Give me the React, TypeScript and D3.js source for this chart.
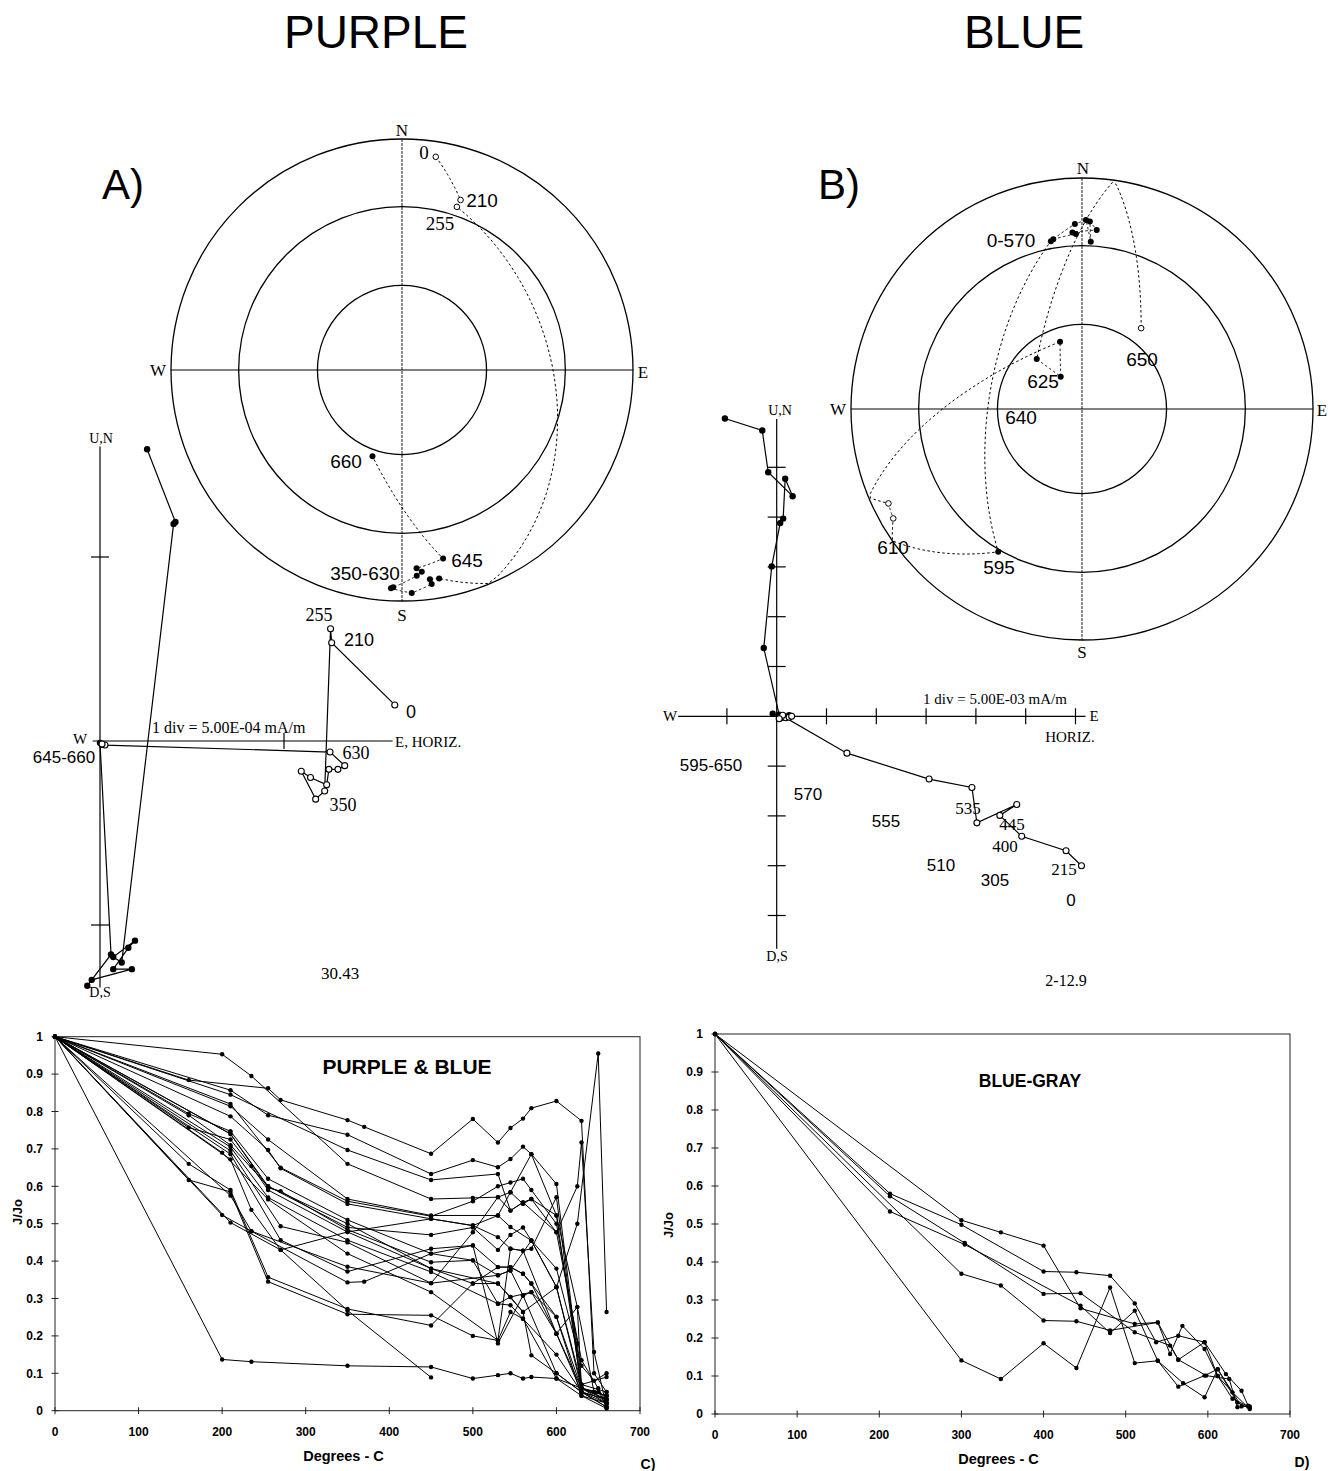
import React from "react";
import * as d3 from "d3";

// ---------- stereonet A (PURPLE), demagnetisation steps, dec / inc in degrees
const stepsA = ["0", "210", "255", "350", "400", "445", "510", "535", "555", "570", "595", "630", "645", "660"];
const decA = [9.0, 19.0, 18.6, 169.9, 172.4, 172.1, 177.5, 182.9, 182.3, 175.9, 174.4, 175.8, 167.7, 198.9];
const incA = [-7.3, -23.2, -26.4, 9.2, 9.5, 7.2, 3.8, 6.0, 6.5, 11.7, 13.3, 15.0, 17.6, 57.6];

// ---------- stereonet B (BLUE)
const stepsB = ["0", "215", "305", "400", "445", "510", "535", "555", "570", "595", "610", "620", "625", "630", "640", "650"];
const decB = [350.4, 358.0, 356.9, 4.7, 2.4, 3.0, 1.2, 357.8, 349.5, 210.4, 239.9, 244.0, 341.9, 326.6, 317.8, 36.2];
const incB = [26.4, 25.2, 24.5, 23.3, 19.9, 28.3, 19.3, 21.0, 27.0, 29.1, -6.2, -7.5, 65.0, 76.4, 66.2, -54.3];

// ---------- Zijderveld A, in divisions (1 div = 5.00E-04 mA/m)
const zaE = [0.256, 0.41, 0.40, 0.118, 0.072, 0.19, 0.154, 0.072, 0.173, -0.045, -0.069, 0.06, 0.0, 0.01];
const zaN = [1.586, 1.19, 1.18, -1.204, -1.174, -1.085, -1.124, -1.24, -1.24, -1.298, -1.33, -1.16, -0.01, -0.02];
const zaH = [1.602, 1.259, 1.253, 1.221, 1.172, 1.094, 1.144, 1.232, 1.244, 1.293, 1.33, 1.25, 0.027, 0.011];
const zaU = [0.196, 0.534, 0.61, -0.272, -0.316, -0.164, -0.198, -0.238, -0.154, -0.154, -0.134, -0.06, -0.022, -0.016];

// ---------- Zijderveld B, in divisions (1 div = 5.00E-03 mA/m)
const zbE = [-1.04, -0.29, -0.17, 0.32, 0.17, 0.13, 0.07, -0.10, -0.26, 0.05, 0.15, 0.25, 0.10, -0.08];
const zbN = [5.98, 5.74, 4.90, 4.42, 4.77, 3.97, 3.88, 3.01, 1.37, 0.03, 0.0, 0.02, -0.03, 0.05];
const zbH = [6.12, 5.81, 4.92, 4.48, 4.82, 4.02, 3.92, 3.06, 1.41, 0.18, 0.25, 0.12, 0.05, 0.3];
const zbU = [-3.0, -2.7, -2.41, -1.99, -1.77, -2.14, -1.43, -1.26, -0.74, -0.03, -0.02, 0.02, -0.05, 0.0];

// ---------- C) PURPLE & BLUE, J/Jo against temperature
const c01 = [[0, 1], [160, .884], [255, .862], [270, .831], [350, .777], [370, .759], [450, .687], [500, .78], [530, .717], [545, .756], [560, .781], [570, .809], [600, .828], [630, .775], [645, .1], [660, .05]];
const c02 = [[0, 1], [200, .953], [235, .895], [350, .66], [450, .566], [500, .569], [530, .571], [545, .584], [560, .553], [570, .566], [600, .522], [625, .277], [630, .06], [660, .03]];
const c03 = [[0, 1], [210, .857], [255, .79], [350, .738], [450, .633], [500, .67], [530, .651], [545, .673], [560, .706], [570, .686], [600, .606], [630, .06], [650, .05], [660, .02]];
const c04 = [[0, 1], [210, .845], [350, .697], [450, .617], [530, .633], [545, .535], [560, .557], [600, .477], [625, .6], [630, .717], [645, .157], [660, .01]];
const c05 = [[0, 1], [210, .814], [255, .725], [350, .566], [450, .522], [530, .522], [545, .491], [570, .455], [600, .331], [630, .06], [660, .04]];
const c06 = [[0, 1], [210, .787], [255, .697], [270, .648], [350, .553], [450, .513], [500, .495], [530, .464], [545, .433], [560, .428], [570, .433], [600, .571], [630, .05], [660, .03]];
const c07 = [[0, 1], [160, .794], [210, .747], [255, .62], [350, .51], [450, .42], [500, .442], [530, .384], [545, .384], [560, .366], [570, .34], [600, .251], [630, .06], [660, .02]];
const c08 = [[0, 1], [210, .74], [255, .596], [270, .587], [350, .484], [450, .397], [500, .402], [530, .362], [545, .375], [560, .308], [570, .317], [600, .206], [630, .05], [660, .03]];
const c09 = [[0, 1], [160, .757], [210, .725], [235, .654], [255, .59], [350, .478], [450, .38], [500, .34], [530, .34], [545, .304], [560, .264], [570, .148], [600, .1], [630, .05], [660, .01]];
const c10 = [[0, 1], [210, .705], [255, .57], [350, .456], [450, .371], [530, .286], [545, .282], [560, .246], [600, .086], [630, .04], [660, .02]];
const c11 = [[0, 1], [210, .695], [270, .493], [350, .45], [450, .341], [500, .477], [530, .571], [545, .535], [560, .557], [570, .566], [600, .477], [630, .135], [650, .06], [660, .02]];
const c12 = [[0, 1], [200, .69], [255, .565], [350, .42], [450, .317], [530, .188], [545, .433], [560, .428], [600, .206], [630, .06], [660, .04]];
const c13 = [[0, 1], [210, .686], [270, .456], [350, .372], [450, .433], [500, .442], [530, .18], [560, .308], [600, .1], [630, .05], [660, .02]];
const c14 = [[0, 1], [210, .672], [235, .537], [270, .43], [350, .478], [450, .513], [500, .495], [530, .522], [545, .584], [570, .686], [600, .522], [630, .06], [660, .03]];
const c15 = [[0, 1], [160, .66], [210, .59], [255, .357], [350, .272], [450, .228], [500, .34], [530, .384], [545, .384], [560, .366], [570, .34], [600, .206], [625, .277], [645, .05], [660, .04]];
const c16 = [[0, 1], [160, .617], [210, .585], [255, .345], [350, .258], [450, .255], [500, .2], [530, .188], [545, .264], [560, .246], [600, .15], [630, .05], [660, .01]];
const c17 = [[0, 1], [210, .575], [235, .48], [350, .343], [370, .345], [450, .42], [500, .402], [530, .286], [545, .304], [570, .317], [600, .251], [630, .04], [660, .006]];
const c18 = [[0, 1], [210, .503], [270, .43], [350, .268], [450, .089]];
const c19 = [[0, 1], [200, .137], [235, .131], [350, .12], [450, .117], [500, .086], [530, .095], [545, .1], [560, .086], [570, .09], [600, .086], [630, .06], [645, .05], [660, .02]];
const c20 = [[0, 1], [210, .74], [255, .6], [350, .5], [450, .38], [530, .34], [560, .264], [600, .33], [625, .5], [650, .955], [660, .264]];
const c21 = [[0, 1], [210, .82], [270, .65], [350, .56], [450, .52], [500, .56], [530, .6], [545, .61], [560, .62], [570, .59], [600, .5], [625, .18], [630, .07], [660, .09]];
const c22 = [[0, 1], [160, .79], [210, .71], [255, .6], [350, .49], [450, .47], [500, .49], [530, .43], [545, .47], [560, .49], [570, .455], [600, .38], [630, .12], [645, .08], [660, .1]];
const c23 = [[0, 1], [200, .523], [235, .48], [350, .385], [450, .341], [530, .362], [545, .375], [570, .455], [600, .331], [630, .07], [660, .05]];
const seriesC = [c01, c02, c03, c04, c05, c06, c07, c08, c09, c10, c11, c12, c13, c14, c15, c16, c17, c18, c19, c20, c21, c22, c23];

// ---------- D) BLUE-GRAY
const d1 = [[0, 1], [300, .51], [348, .478], [400, .443], [445, .278], [511, .237], [539, .241], [554, .158], [569, .232], [596, .171], [612, .10], [630, .057], [651, .013]];
const d2 = [[0, 1], [213, .58], [300, .498], [400, .375], [440, .373], [481, .364], [511, .291], [537, .189], [564, .206], [596, .189], [622, .105], [641, .061], [649, .022]];
const d3s = [[0, 1], [213, .573], [304, .45], [400, .316], [445, .318], [511, .215], [554, .18], [564, .143], [598, .101], [626, .092], [636, .018]];
const d4 = [[0, 1], [213, .533], [304, .446], [445, .285], [481, .213], [511, .272], [539, .14], [570, .081], [596, .044], [612, .118], [641, .02], [651, .02]];
const d5 = [[0, 1], [300, .369], [348, .338], [400, .246], [440, .244], [481, .22], [539, .241], [564, .143], [596, .189], [612, .10], [630, .04], [649, .02]];
const d6 = [[0, 1], [300, .141], [348, .092], [400, .186], [440, .121], [481, .333], [511, .134], [539, .14], [564, .072], [596, .101], [612, .118], [636, .03], [651, .015]];
const seriesD = [d1, d2, d3s, d4, d5, d6];

const xTicksDeg = [0, 100, 200, 300, 400, 500, 600, 700];
const yTicksJ = [0, 0.1, 0.2, 0.3, 0.4, 0.5, 0.6, 0.7, 0.8, 0.9, 1];

const SER = "'Liberation Serif', 'DejaVu Serif', serif";
const SANS = "'Liberation Sans', Arial, sans-serif";
const RAD = Math.PI / 180;
const R = 231;

const Txt = ({ x, y, t, size = 17, font = SANS, anchor = "middle", weight = "normal", rotate = 0 }) => (
  <text x={x} y={y} dy="0.35em" fontSize={size} fontFamily={font} textAnchor={anchor} fontWeight={weight}
    transform={rotate ? `rotate(${rotate},${x},${y})` : undefined}>{t}</text>
);

function Stereonet({ cx, cy, dec, inc }) {
  const r = d3.scaleLinear().domain([0, 1]).range([0, R]);
  // equal-area (Lambert) projection, upper hemisphere folded onto lower
  const eq = (I) => Math.SQRT2 * Math.sin(((90 - Math.abs(I)) / 2) * RAD);
  const proj = (D, I) => {
    const rr = r(eq(I));
    return [cx + rr * Math.sin(D * RAD), cy - rr * Math.cos(D * RAD)];
  };
  const rings = [0, 30, 60].map((I) => r(eq(I)));
  const pts = [];
  for (let k = 0; k < dec.length - 1; k++) {
    const f = d3.geoInterpolate([dec[k], inc[k]], [dec[k + 1], inc[k + 1]]);
    d3.range(0, 1.0001, 1 / 40).forEach((t) => {
      const [D, I] = f(t);
      pts.push(proj(D, I));
    });
  }
  const path = d3.line()(pts);
  return (
    <g>
      {rings.map((rr, i) => (
        <circle key={i} cx={cx} cy={cy} r={rr} fill="none" stroke="#000" strokeWidth={1.3} />
      ))}
      <line x1={cx - R} x2={cx + R} y1={cy} y2={cy} stroke="#000" strokeWidth={1} />
      <line x1={cx} x2={cx} y1={cy - R} y2={cy + R} stroke="#000" strokeWidth={0.9} strokeDasharray="3,1" />
      <path d={path} fill="none" stroke="#000" strokeWidth={1} strokeDasharray="2.5,2.5" />
      {dec.map((D, i) => {
        const [x, y] = proj(D, inc[i]);
        return inc[i] >= 0
          ? <circle key={i} cx={x} cy={y} r={3} fill="#000" />
          : <circle key={i} cx={x} cy={y} r={2.8} fill="#fff" stroke="#000" strokeWidth={1} />;
      })}
    </g>
  );
}

function Zijderveld({ ox, oy, div, xr, yr, xTicks, yTicks, hE, hN, vH, vU }) {
  const x = d3.scaleLinear().domain([0, 1]).range([ox, ox + div]);
  const y = d3.scaleLinear().domain([0, 1]).range([oy, oy - div]);
  const line = d3.line();
  const hPts = hE.map((e, i) => [x(e), y(hN[i])]);
  const vPts = vH.map((h, i) => [x(h), y(vU[i])]);
  return (
    <g>
      <line x1={x(xr[0])} x2={x(xr[1])} y1={oy} y2={oy} stroke="#000" strokeWidth={1.2} />
      <line x1={ox} x2={ox} y1={y(yr[0])} y2={y(yr[1])} stroke="#000" strokeWidth={1.2} />
      {xTicks.map((t) => (
        <line key={"x" + t} x1={x(t)} x2={x(t)} y1={oy - 8} y2={oy + 8} stroke="#000" strokeWidth={1.2} />
      ))}
      {yTicks.map((t) => (
        <line key={"y" + t} x1={ox - 9} x2={ox + 9} y1={y(t)} y2={y(t)} stroke="#000" strokeWidth={1.2} />
      ))}
      <path d={line(hPts)} fill="none" stroke="#000" strokeWidth={1.2} />
      <path d={line(vPts)} fill="none" stroke="#000" strokeWidth={1.2} />
      {hPts.map(([px, py], i) => <circle key={"h" + i} cx={px} cy={py} r={3.2} fill="#000" />)}
      {vPts.map(([px, py], i) => (
        <circle key={"v" + i} cx={px} cy={py} r={3} fill="#fff" stroke="#000" strokeWidth={1.1} />
      ))}
    </g>
  );
}

function DecayChart({ left, right, top, bottom, series, title, tx, ty, tsize, yLabelX, yLabelY, letter, lx, ly }) {
  const x = d3.scaleLinear().domain([0, 700]).range([left, right]);
  const y = d3.scaleLinear().domain([0, 1]).range([bottom, top]);
  const line = d3.line().x((d) => x(d[0])).y((d) => y(d[1]));
  return (
    <g>
      <rect x={left} y={top} width={right - left} height={bottom - top} fill="none" stroke="#222" strokeWidth={1} />
      {yTicksJ.map((t) => (
        <line key={"ytk" + t} x1={left - 3.5} x2={left + 3.5} y1={y(t)} y2={y(t)} stroke="#222" strokeWidth={1} />
      ))}
      {xTicksDeg.map((t) => (
        <line key={"xtk" + t} x1={x(t)} x2={x(t)} y1={bottom - 3.5} y2={bottom + 3.5} stroke="#222" strokeWidth={1} />
      ))}
      {series.map((s, i) => (
        <g key={i}>
          <path d={line(s)} fill="none" stroke="#000" strokeWidth={1} />
          {s.map((d, j) => <circle key={j} cx={x(d[0])} cy={y(d[1])} r={2.2} fill="#000" />)}
        </g>
      ))}
      {xTicksDeg.map((t) => (
        <Txt key={"xt" + t} x={x(t)} y={bottom + 21} t={String(t)} size={12} weight="bold" />
      ))}
      {yTicksJ.map((t) => (
        <Txt key={"yt" + t} x={left - 12} y={y(t)} t={String(t)} size={12} weight="bold" anchor="end" />
      ))}
      <Txt x={(left + right) / 2 - 4} y={bottom + 45} t="Degrees - C" size={14.5} weight="bold" />
      <Txt x={yLabelX} y={yLabelY} t="J/Jo" size={13} weight="bold" rotate={-90} />
      <Txt x={tx} y={ty} t={title} size={tsize} weight="bold" />
      <Txt x={lx} y={ly} t={letter} size={14} weight="bold" />
    </g>
  );
}

export default function App() {
  return (
    <svg width={1334} height={1471} style={{ position: "absolute", left: 0, top: 0, background: "#fff" }}>
      <rect width={1334} height={1471} fill="#fff" />
      <text x={376} y={48} fontSize={46} fontFamily={SANS} textAnchor="middle">PURPLE</text>
      <text x={1024} y={48} fontSize={46} fontFamily={SANS} textAnchor="middle">BLUE</text>
      <text x={102} y={199} fontSize={42} fontFamily={SANS}>A)</text>
      <text x={818} y={199} fontSize={42} fontFamily={SANS}>B)</text>

      {/* ---- A stereonet ---- */}
      <Stereonet cx={402} cy={370} dec={decA} inc={incA} />
      <Txt x={402} y={130} t="N" font={SER} size={17} />
      <Txt x={402} y={615} t="S" font={SER} size={17} />
      <Txt x={158} y={370} t="W" font={SER} size={17} />
      <Txt x={643} y={372} t="E" font={SER} size={17} />
      <Txt x={424} y={152} t="0" font={SER} size={19} />
      <Txt x={482} y={200} t="210" size={19} />
      <Txt x={440} y={223} t="255" font={SER} size={19} />
      <Txt x={346} y={461} t="660" size={19} />
      <Txt x={467} y={560} t="645" size={19} />
      <Txt x={365} y={573} t="350-630" size={19} />

      {/* ---- B stereonet ---- */}
      <Stereonet cx={1082} cy={409} dec={decB} inc={incB} />
      <Txt x={1083} y={168} t="N" font={SER} size={17} />
      <Txt x={1082} y={652} t="S" font={SER} size={17} />
      <Txt x={838} y={409} t="W" font={SER} size={17} />
      <Txt x={1322} y={410} t="E" font={SER} size={17} />
      <Txt x={1011} y={240} t="0-570" size={19} />
      <Txt x={1142} y={359} t="650" size={19} />
      <Txt x={1043} y={381} t="625" size={19} />
      <Txt x={1021} y={417} t="640" size={19} />
      <Txt x={893} y={547} t="610" size={19} />
      <Txt x={999} y={567} t="595" size={19} />

      {/* ---- A Zijderveld ---- */}
      <Zijderveld ox={100} oy={741} div={184} xr={[-0.04, 1.59]} yr={[1.6, -1.34]} xTicks={[1]} yTicks={[-1, 1]}
        hE={zaE} hN={zaN} vH={zaH} vU={zaU} />
      <Txt x={101} y={438} t="U,N" font={SER} size={14} />
      <Txt x={100} y={992} t="D,S" font={SER} size={14} />
      <Txt x={80} y={739} t="W" font={SER} size={15} />
      <Txt x={395} y={742} t="E, HORIZ." font={SER} size={15} anchor="start" />
      <Txt x={152} y={727} t="1 div =  5.00E-04 mA/m" font={SER} size={16} anchor="start" />
      <Txt x={64} y={757} t="645-660" size={17} />
      <Txt x={319} y={615} t="255" font={SER} size={18} />
      <Txt x={359} y={640} t="210" size={18} />
      <Txt x={411} y={712} t="0" size={18} />
      <Txt x={356} y={753} t="630" font={SER} size={18} />
      <Txt x={343} y={805} t="350" font={SER} size={18} />
      <Txt x={340} y={973} t="30.43" font={SER} size={17} />

      {/* ---- B Zijderveld ---- */}
      <Zijderveld ox={776.7} oy={716.3} div={49.8} xr={[-1.98, 6.2]} yr={[5.97, -4.67]}
        xTicks={[-1, 1, 2, 3, 4, 5, 6]} yTicks={[-4, -3, -2, -1, 1, 2, 3, 4, 5]}
        hE={zbE} hN={zbN} vH={zbH} vU={zbU} />
      <Txt x={780} y={410} t="U,N" font={SER} size={14} />
      <Txt x={777} y={956} t="D,S" font={SER} size={14} />
      <Txt x={670} y={716} t="W" font={SER} size={15} />
      <Txt x={1094} y={716} t="E" font={SER} size={15} />
      <Txt x={1070} y={737} t="HORIZ." font={SER} size={15} />
      <Txt x={995} y={699} t="1 div =  5.00E-03 mA/m" font={SER} size={15} />
      <Txt x={711} y={765} t="595-650" size={17} />
      <Txt x={808} y={794} t="570" size={17} />
      <Txt x={886} y={821} t="555" size={17} />
      <Txt x={968} y={808} t="535" font={SER} size={17} />
      <Txt x={1012} y={824} t="445" font={SER} size={17} />
      <Txt x={1005} y={846} t="400" font={SER} size={17} />
      <Txt x={941} y={865} t="510" size={17} />
      <Txt x={995} y={880} t="305" size={17} />
      <Txt x={1064} y={869} t="215" font={SER} size={17} />
      <Txt x={1071} y={900} t="0" size={17} />
      <Txt x={1066} y={980} t="2-12.9" font={SER} size={16} />

      {/* ---- C and D ---- */}
      <DecayChart left={55} right={640} top={1036.7} bottom={1410.7} series={seriesC}
        title="PURPLE & BLUE" tx={407} ty={1067} tsize={21} yLabelX={17} yLabelY={1212}
        letter="C)" lx={648} ly={1464} />
      <DecayChart left={715} right={1290} top={1034} bottom={1414} series={seriesD}
        title="BLUE-GRAY" tx={1030} ty={1081} tsize={17.5} yLabelX={668} yLabelY={1225}
        letter="D)" lx={1302} ly={1462} />
    </svg>
  );
}
